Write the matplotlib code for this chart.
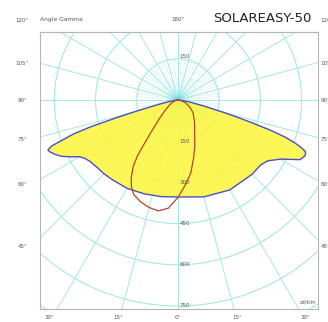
import numpy as np
import matplotlib.pyplot as plt

### Photometric data [cd/klm] vs gamma angle [deg] from nadir
### ---------------------------------------------------------
gamma_c0 = [0, 15, 30, 45, 52, 56, 58, 60, 62, 64, 66, 67, 68, 69, 70, 71, 72, 73, 74, 75, 77, 80, 85, 90]
r_c0 = [353, 365, 378, 382, 383, 395, 412, 430, 460, 495, 504, 505, 500, 480, 450, 410, 350, 280, 220, 170, 100, 50, 18, 0]

gamma_c180 = [0, 10, 20, 30, 40, 45, 50, 55, 58, 60, 62, 64, 66, 68, 69, 70, 71, 72, 73, 74, 75, 76, 78, 80, 85, 90]
r_c180 = [353, 357, 363, 371, 376, 380, 383, 390, 400, 413, 440, 468, 488, 503, 507, 490, 440, 400, 330, 230, 160, 110, 60, 35, 12, 0]

gamma_c90 = [0, 5, 10, 15, 20, 25, 28, 31, 34, 36, 38, 40, 45, 50, 60, 70, 80, 90]
r_c90 = [355, 395, 410, 405, 395, 380, 360, 330, 290, 250, 190, 150, 95, 65, 35, 18, 8, 0]

gamma_c270 = [0, 5, 10, 15, 20, 25, 30, 35, 40, 50, 60, 70, 80, 90]
r_c270 = [355, 310, 270, 220, 180, 145, 122, 106, 92, 72, 50, 30, 12, 0]

ring_values = [150, 300, 450, 600, 750]
side_angles = [45, 60, 75, 90, 105, 120]
bottom_angles = [30, 15, 0]

### Colours
### -------
c_grid = '#a6e9e2'
c_fine = '#d4f5f2'
c_text = '#555555'


### Polar -> cartesian (gamma from nadir, side=+1 right, -1 left)
### -------------------------------------------------------------
def to_xy(gamma, r, side):
    g = np.radians(np.asarray(gamma, dtype=float))
    r = np.asarray(r, dtype=float)
    return side * r * np.sin(g), -r * np.cos(g)


fig = plt.figure(figsize=(3.28, 3.22), dpi=100)
ax = fig.add_axes([40/328, 13/322, 278/328, 277/322])
xmin, xmax = -502, 510
ymin, ymax = -761, 248
ax.set_xlim(xmin, xmax)
ax.set_ylim(ymin, ymax)
ax.set_xticks([])
ax.set_yticks([])
for s in ax.spines.values():
    s.set_color('#b5b5b5')
    s.set_linewidth(0.8)

### Grid: fine rays near centre, 15 deg rays, rings
t = np.linspace(0, 2*np.pi, 400)
for a in range(0, 360, 5):
    ar = np.radians(a)
    ax.plot([0, 160*np.sin(ar)], [0, -160*np.cos(ar)], color=c_fine, lw=0.5, zorder=1)
for a in range(0, 360, 15):
    ar = np.radians(a)
    ax.plot([0, 1200*np.sin(ar)], [0, -1200*np.cos(ar)], color=c_grid, lw=0.7, zorder=1)
for rv in range(150, 1200, 150):
    ax.plot(rv*np.cos(t), rv*np.sin(t), color=c_grid, lw=0.8, zorder=1)

### Glow at the centre
for rad, al in [(40, 0.08), (26, 0.14), (15, 0.25), (8, 0.4)]:
    ax.add_patch(plt.Circle((0, 0), rad, color='#40c8f0', alpha=al, lw=0, zorder=2))

### C0-C180 plane (filled)
xl, yl = to_xy(gamma_c180[::-1], r_c180[::-1], -1)
xr, yr = to_xy(gamma_c0, r_c0, 1)
xb = np.concatenate([xl, xr])
yb = np.concatenate([yl, yr])
ax.fill(xb, yb, color='#fcf63a', alpha=0.85, lw=0, zorder=3)
ax.plot(xb, yb, color='#4b4fc4', lw=1.0, zorder=5)

### C90-C270 plane
xl, yl = to_xy(gamma_c90[::-1], r_c90[::-1], -1)
xr, yr = to_xy(gamma_c270, r_c270, 1)
ax.plot(np.concatenate([xl, xr]), np.concatenate([yl, yr]), color='#b4452a', lw=0.9, zorder=6)

### Ring labels
ax.text(25, 160, '150', fontsize=4, color=c_text, ha='center', va='center', zorder=7)
for rv in ring_values:
    ax.text(25, -rv, str(rv), fontsize=4, color=c_text, ha='center', va='center', zorder=7)
ax.text(xmax - 8, ymin + 15, 'cd/klm', fontsize=3.5, color=c_text, ha='right', va='bottom')

### Angle labels (near where the 15 deg rays meet the box)
for a in side_angles:
    y = xmin / np.tan(np.radians(a))
    if y < 0:
        y *= 1.06
    ax.text(xmin - 65, y, f'{a}°', fontsize=4, color=c_text, ha='center', va='center', clip_on=False)
    ax.text(xmax + 10, y, f'{a}°', fontsize=4, color=c_text, ha='left', va='center', clip_on=False)
for a in bottom_angles:
    x = -ymin * np.tan(np.radians(a)) * 1.06
    ax.text(-x, ymin - 32, f'{a}°', fontsize=4, color=c_text, ha='center', va='center', clip_on=False)
    if a:
        ax.text(x, ymin - 32, f'{a}°', fontsize=4, color=c_text, ha='center', va='center', clip_on=False)
ax.text(0, ymax + 46, '180°', fontsize=4, color=c_text, ha='center', va='center', clip_on=False)
ax.text(xmin, ymax + 46, 'Angle Gamma', fontsize=4.3, color=c_text, ha='left', va='center', clip_on=False)

fig.text(262/328, 1 - 19/322, 'SOLAREASY-50', fontsize=9.5, color='#222222', ha='center', va='center')

fig.savefig('out.png', dpi=100)
